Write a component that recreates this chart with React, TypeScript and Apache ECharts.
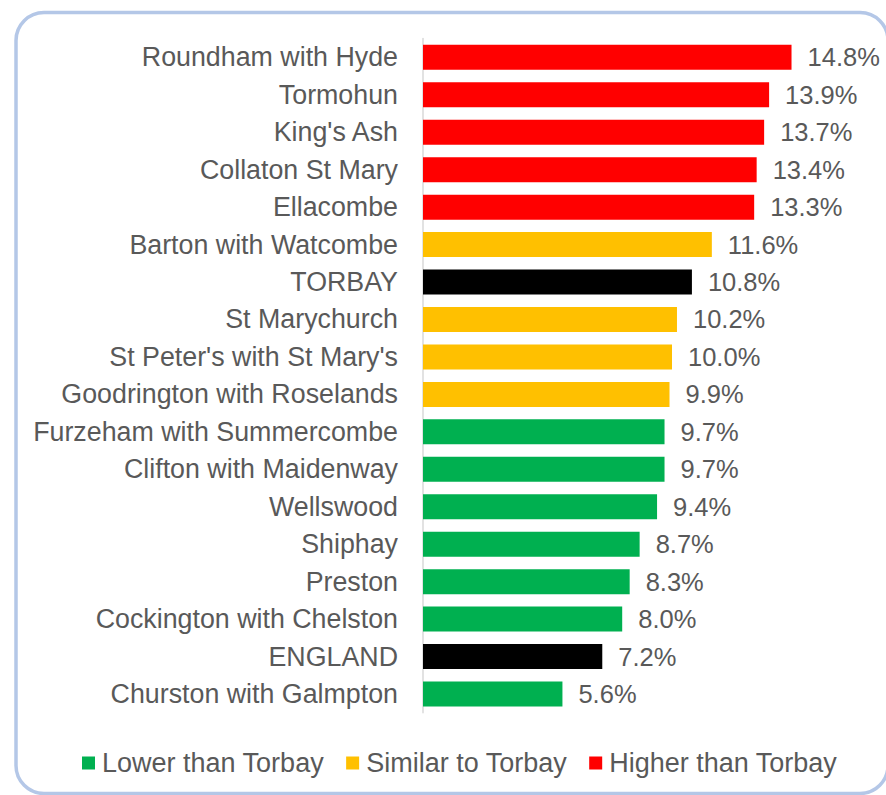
import React, { useEffect, useRef } from "react";
import * as echarts from "echarts";

const categories = [
  "Roundham with Hyde",
  "Tormohun",
  "King's Ash",
  "Collaton St Mary",
  "Ellacombe",
  "Barton with Watcombe",
  "TORBAY",
  "St Marychurch",
  "St Peter's with St Mary's",
  "Goodrington with Roselands",
  "Furzeham with Summercombe",
  "Clifton with Maidenway",
  "Wellswood",
  "Shiphay",
  "Preston",
  "Cockington with Chelston",
  "ENGLAND",
  "Churston with Galmpton",
];

const values = [14.8, 13.9, 13.7, 13.4, 13.3, 11.6, 10.8, 10.2, 10.0, 9.9, 9.7, 9.7, 9.4, 8.7, 8.3, 8.0, 7.2, 5.6];

// group of each category: L = lower, S = similar, H = higher, B = benchmark
const groups = ["H", "H", "H", "H", "H", "S", "B", "S", "S", "S", "L", "L", "L", "L", "L", "L", "B", "L"];

const seriesDefs = [
  { key: "L", name: "Lower than Torbay", color: "#00b050" },
  { key: "S", name: "Similar to Torbay", color: "#ffc000" },
  { key: "H", name: "Higher than Torbay", color: "#ff0000" },
  { key: "B", name: "Benchmark", color: "#000000" },
];

const legendNames = ["Lower than Torbay", "Similar to Torbay", "Higher than Torbay"];

const FONT = "'Liberation Sans', Arial, sans-serif";
const TEXT = "#595959";

export default function App() {
  const ref = useRef<HTMLDivElement>(null);
  useEffect(() => {
    if (!ref.current) return;
    const chart = echarts.init(ref.current, null, { renderer: "svg" });
    const series = seriesDefs.map((d) => ({
      type: "bar",
      name: d.name,
      data: values.map((v, i) => (groups[i] === d.key ? v : "-")),
      barWidth: 25,
      barGap: "-100%",
      itemStyle: { color: d.color },
      label: {
        show: true,
        position: "right",
        distance: 16,
        fontFamily: FONT,
        fontSize: 25.5,
        color: TEXT,
        formatter: (p: any) => Number(p.value).toFixed(1) + "%",
      },
    }));
    chart.setOption({
      animation: false,
      backgroundColor: "#ffffff",
      textStyle: { fontFamily: FONT },
      graphic: [
        {
          type: "rect",
          shape: { x: 16, y: 12.5, width: 872, height: 781, r: 28 },
          style: { fill: "none", stroke: "#b4c7e7", lineWidth: 3.5 },
          z: -1,
        },
      ],
      grid: { left: 423, right: 64.6, top: 38.6, bottom: 82.3, containLabel: false },
      xAxis: {
        type: "value",
        min: 0,
        max: 16,
        show: false,
      },
      yAxis: {
        type: "category",
        data: categories,
        inverse: true,
        axisLine: { show: true, lineStyle: { color: "#d9d9d9", width: 1.5 } },
        axisTick: { show: false },
        axisLabel: { margin: 25, fontFamily: FONT, fontSize: 26.8, color: TEXT },
      },
      legend: {
        data: legendNames,
        left: 82,
        top: 749.5,
        padding: 0,
        itemWidth: 13,
        itemHeight: 13,
        itemGap: 22,
        icon: "rect",
        textStyle: { fontFamily: FONT, fontSize: 27, color: TEXT, padding: [0, 0, 0, 2] },
      },
      series,
    });
    return () => chart.dispose();
  }, []);
  return <div ref={ref} style={{ position: "fixed", left: 0, top: 0, width: 886, height: 795 }} />;
}
